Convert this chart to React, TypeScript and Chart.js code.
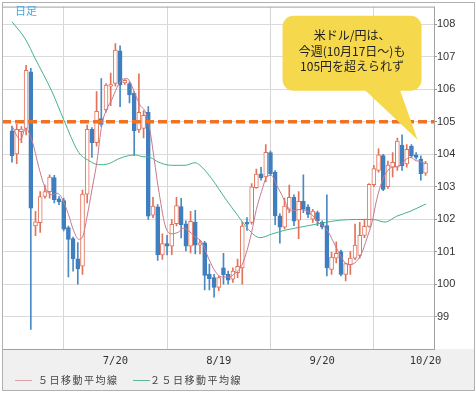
import React, { useEffect, useRef } from "react";
import { Chart, registerables } from "chart.js";

Chart.register(...registerables);

const W = 476;
const H = 394;

// Daily candles, one per weekday from 6/20 (index 0) to 10/20 (index 88)
const opens = [
  104.72, 104.01, 104.7, 104.8, 106.54, 101.79, 101.89, 102.7, 102.85, 103.28,
  102.63, 102.57, 101.74, 101.4, 100.78, 100.55, 102.77, 104.77, 104.36, 105.1,
  105.37, 106.1, 106.18, 107.19, 106.2, 106.18, 105.88, 104.75, 104.8, 105.29,
  102.12, 102.38, 100.9, 101.25, 101.17, 101.86, 102.39, 101.86, 101.17, 101.9,
  101.2, 101.27, 100.3, 100.2, 99.9, 100.5, 100.3, 100.15, 100.35, 100.5,
  101.9, 101.9, 102.97, 103.4, 103.3, 104.05, 103.45, 102.1, 101.75, 102.3,
  102.67, 101.97, 102.55, 102.38, 102.0, 102.2, 101.9, 101.8, 100.45, 100.8,
  101.0, 100.3, 100.6, 100.8, 100.88, 101.5, 101.78, 103.06, 103.5, 103.96,
  103.0, 103.6, 103.6, 104.28, 103.7, 104.25, 103.98, 103.85, 103.42,
];
const highs = [
  104.87, 104.92, 104.85, 106.74, 106.65, 102.24, 102.85, 103.05, 103.37, 103.35,
  102.7, 102.65, 101.79, 101.45, 101.28, 102.9, 104.9, 104.82, 105.93, 106.33,
  106.18, 106.5, 107.41, 107.34, 106.3, 106.23, 105.93, 106.48, 105.35, 105.47,
  102.67, 102.45, 101.55, 101.5, 101.99, 102.67, 102.64, 101.95, 102.24, 102.27,
  101.35, 101.32, 100.62, 100.3, 100.25, 100.95, 100.4, 100.5, 100.77, 101.92,
  102.05, 103.1, 103.54, 103.6, 104.3, 104.1, 103.5, 102.17, 102.65, 103.05,
  102.75, 102.85, 103.37, 102.45, 102.3, 102.25, 101.95, 102.75, 100.98, 101.3,
  101.05, 100.65, 101.0, 101.85, 101.9, 102.0, 103.1, 103.66, 104.17, 104.0,
  103.79, 104.05, 104.5, 104.6, 104.3, 104.3, 104.05, 103.95, 103.78,
];
const lows = [
  103.76, 103.71, 104.36, 104.6, 98.6, 101.49, 101.59, 102.65, 102.65, 102.5,
  102.45, 101.64, 100.22, 100.4, 100.0, 100.3, 102.5, 103.9, 104.25, 104.85,
  105.3, 105.5, 106.1, 105.47, 106.15, 105.58, 103.96, 104.67, 104.5, 101.99,
  102.05, 100.73, 100.76, 100.9, 100.91, 101.79, 101.42, 101.02, 100.96, 100.93,
  100.93, 99.82, 99.82, 99.6, 99.8, 100.0, 100.0, 100.05, 100.2, 100.0,
  101.65, 101.85, 102.95, 103.2, 103.15, 103.35, 101.83, 101.26, 101.7, 102.2,
  101.8, 101.4, 102.2, 102.05, 101.9, 101.8, 101.7, 100.25, 100.3, 100.65,
  100.25, 100.1, 100.3, 100.75, 100.8, 101.43, 101.75, 103.0, 103.45, 102.88,
  102.95, 103.3, 103.5, 103.5, 103.6, 103.9, 103.85, 103.2, 103.35,
];
const closes = [
  103.96, 104.77, 104.78, 106.59, 102.34, 101.92, 102.7, 102.85, 103.3, 102.6,
  102.53, 101.69, 101.38, 100.78, 100.47, 102.77, 104.77, 104.36, 105.32, 104.92,
  106.13, 106.15, 107.21, 106.13, 106.28, 105.83, 104.72, 105.29, 105.2, 102.09,
  102.4, 100.9, 101.25, 101.17, 101.84, 102.42, 101.83, 101.17, 101.93, 101.2,
  101.27, 100.27, 100.17, 99.9, 100.2, 100.29, 100.12, 100.4, 100.55, 101.79,
  101.85, 103.0, 103.39, 103.27, 104.06, 103.4, 102.1, 101.75, 102.4, 102.67,
  101.94, 102.55, 102.3, 102.15, 102.25, 101.95, 101.75, 100.5, 100.83, 100.95,
  100.3, 100.63, 100.8, 101.2, 101.5, 101.78, 103.07, 103.56, 103.98, 102.92,
  103.67, 103.75, 104.41, 103.65, 104.15, 103.95, 103.9, 103.4, 103.73,
];

// Moving averages: [day index, value]
const ma5: [number, number][] = [
  [0, 104.87], [1.8, 104.45], [2.9, 104.8], [4.3, 104.4], [5.7, 103.6], [6.7, 103.1],
  [7.5, 102.85], [8.5, 102.75], [9.6, 102.8], [10.6, 102.65], [12, 102.15], [13.1, 101.65],
  [14.2, 101.38], [14.9, 101.42], [16, 102.1], [17, 102.9], [18.1, 103.8], [19.1, 104.9],
  [20.2, 105.4], [21.3, 105.7], [22.3, 106.05], [23.4, 106.3], [24.5, 106.33], [25.2, 106.2],
  [26.2, 105.85], [27.3, 105.5], [28.4, 105.3], [29.4, 104.7], [30.3, 103.8], [31.1, 103.0],
  [32.6, 101.8], [34, 101.55], [35.4, 101.6], [36.5, 101.72], [37.5, 101.65], [39, 101.45],
  [40.4, 101.3], [41.8, 100.8], [43.2, 100.4], [44.6, 100.22], [46, 100.22], [47.4, 100.32],
  [48.9, 100.58], [50, 101.03], [51, 101.6], [52, 102.3], [53.1, 102.85], [54.2, 103.3],
  [55.2, 103.35], [56.3, 103.05], [57.4, 102.75], [58.4, 102.45], [59.5, 102.25], [61.3, 102.3],
  [63.4, 102.2], [65.5, 101.85], [66.9, 101.7], [68.4, 101.3], [69.8, 100.9], [70.9, 100.65],
  [71.9, 100.6], [73.3, 100.7], [74.4, 100.95], [75.5, 101.4], [76.6, 101.9], [77.6, 102.6],
  [78.7, 103.15], [79.7, 103.45], [80.8, 103.6], [81.8, 103.62], [82.9, 103.7], [83.9, 103.85],
  [84.9, 103.9], [86, 103.8], [87, 103.78], [88, 103.7],
];
const ma25: [number, number][] = [
  [0, 108.08], [2.84, 107.55], [4.96, 106.94], [8.51, 105.93], [10.99, 105.07], [14.18, 104.06],
  [16.31, 103.81], [18.44, 103.68], [20.57, 103.71], [22.7, 103.86], [24.82, 103.96], [26.24, 103.98],
  [27.66, 103.93], [29.43, 103.9], [31.13, 103.76], [33.97, 103.66], [36.81, 103.66], [38.94, 103.74],
  [40.0, 103.66], [42.48, 103.25], [45.32, 102.65], [48.16, 102.09], [50.28, 101.69], [52.77, 101.43],
  [55.25, 101.54], [58.09, 101.66], [62.7, 101.79], [66.24, 101.89], [69.79, 101.97], [73.33, 101.99],
  [76.88, 101.99], [79.36, 101.91], [81.84, 102.09], [84.68, 102.24], [88.09, 102.47],
];

const xTickIdx = [0, 22, 44, 66, 88];
const xTickLabels = ["", "7/20", "8/19", "9/20", "10/20"];
const yTicks = [99, 100, 101, 102, 103, 104, 105, 106, 107, 108];
const resistance = 105;
const calloutAnchor = { x: 86.3, y: 104.45 };
const calloutLines = ["米ドル/円は、", "今週(10月17日～)も", "105円を超えられず"];
const legendItems = [
  { label: "５日移動平均線", color: "#d9a3a8" },
  { label: "２５日移動平均線", color: "#5cb896" },
];
const periodLabel = "日足";

const UP_LINE = "#e2725a";
const DOWN_FILL = "#3f7fbf";

export default function App() {
  const ref = useRef<HTMLCanvasElement | null>(null);

  useEffect(() => {
    const canvas = ref.current;
    if (!canvas) return;
    const isUp = (i: number) => closes[i] >= opens[i];

    const deco = {
      id: "deco",
      beforeDraw(chart: any) {
        const c = chart.ctx;
        const ca = chart.chartArea;
        c.save();
        c.fillStyle = "#ffffff";
        c.fillRect(0, 0, W, H);
        c.fillStyle = "#f0f0f0";
        c.fillRect(2, ca.bottom, 472, 391 - ca.bottom);
        c.restore();
      },
      afterDraw(chart: any) {
        const c = chart.ctx;
        const ca = chart.chartArea;
        const xs = chart.scales.x;
        const ys = chart.scales.y;
        c.save();
        // resistance line
        const yr = ys.getPixelForValue(resistance);
        c.strokeStyle = "#f07222";
        c.lineWidth = 3.5;
        c.setLineDash([9, 4]);
        c.beginPath();
        c.moveTo(ca.left, yr);
        c.lineTo(ca.right, yr);
        c.stroke();
        c.setLineDash([]);

        // plot border
        c.strokeStyle = "#a0a0a0";
        c.lineWidth = 1;
        c.strokeRect(ca.left + 0.5, ca.top + 0.5, ca.right - ca.left, ca.bottom - ca.top);
        // outer border
        c.strokeStyle = "#b0b0b0";
        c.strokeRect(2.5, 2.5, 472, 388);

        // period label
        c.fillStyle = "#45a8de";
        c.font = '11px "Noto Sans CJK JP"';
        c.textBaseline = "middle";
        c.textAlign = "left";
        c.fillText(periodLabel, 15, 11);

        // callout
        const tx = xs.getPixelForValue(calloutAnchor.x);
        const ty = ys.getPixelForValue(calloutAnchor.y);
        const bl = tx - 135, br = tx + 4, bt = ty - 124, bb = ty - 49;
        c.fillStyle = "#f6d84c";
        c.beginPath();
        (c as any).roundRect(bl, bt, br - bl, bb - bt, 11);
        c.fill();
        c.beginPath();
        c.moveTo(tx - 54, bb - 2);
        c.lineTo(tx - 18, bb - 2);
        c.lineTo(tx, ty);
        c.closePath();
        c.fill();
        c.fillStyle = "#222";
        c.font = '12px "Noto Sans CJK JP"';
        c.textAlign = "center";
        const cx = (bl + br) / 2;
        calloutLines.forEach((t, k) => c.fillText(t, cx, bt + 20 + k * 15.5));

        // legend
        c.textAlign = "left";
        c.font = '10px "Noto Sans CJK JP"';
        (c as any).letterSpacing = "1.5px";
        const lx = [15, 133];
        const tx0 = [38, 150];
        legendItems.forEach((it, k) => {
          c.strokeStyle = it.color;
          c.lineWidth = 1;
          c.beginPath();
          c.moveTo(lx[k], 380.5);
          c.lineTo(lx[k] + 17, 380.5);
          c.stroke();
          c.fillStyle = "#444";
          c.fillText(it.label, tx0[k], 380);
        });
        (c as any).letterSpacing = "0px";
        c.restore();
      },
    };

    const chart = new Chart(canvas, {
      type: "bar",
      data: {
        datasets: [
          {
            type: "line",
            data: ma5.map(([x, y]) => ({ x, y })),
            borderColor: "#c9798f",
            borderWidth: 1,
            pointRadius: 0,
            tension: 0.4,
            cubicInterpolationMode: "monotone",
          } as any,
          {
            type: "line",
            data: ma25.map(([x, y]) => ({ x, y })),
            borderColor: "#46b386",
            borderWidth: 1,
            pointRadius: 0,
            tension: 0.4,
            cubicInterpolationMode: "monotone",
          } as any,
          {
            type: "bar",
            data: opens.map((o, i) => ({ x: i, y: [Math.min(o, closes[i]), Math.max(o, closes[i])] })),
            backgroundColor: (ctx: any) => (isUp(ctx.dataIndex) ? "#ffffff" : DOWN_FILL),
            borderColor: (ctx: any) => (isUp(ctx.dataIndex) ? UP_LINE : DOWN_FILL),
            borderWidth: 1,
            borderSkipped: false,
            barThickness: 4,
            minBarLength: 1,
            grouped: false,
          } as any,
          {
            type: "bar",
            data: lows.map((l, i) => ({ x: i, y: [l, highs[i]] })),
            backgroundColor: (ctx: any) => (isUp(ctx.dataIndex) ? UP_LINE : "#4a89c6"),
            borderWidth: 0,
            barThickness: 1,
            grouped: false,
          } as any,
        ],
      },
      options: {
        animation: false,
        responsive: false,
        maintainAspectRatio: false,
        layout: { padding: { left: 2, top: 2, right: 2, bottom: 3 } },
        plugins: { legend: { display: false }, tooltip: { enabled: false } },
        scales: {
          x: {
            type: "linear",
            min: -2.13,
            max: 89.8,
            offset: false,
            grid: { color: "#d6d6d6", drawTicks: false },
            border: { display: false },
            afterBuildTicks: (s: any) => {
              s.ticks = xTickIdx.map((v) => ({ value: v }));
            },
            afterFit: (s: any) => {
              s.height = 42;
            },
            ticks: {
              autoSkip: false,
              maxRotation: 0,
              padding: 6,
              color: "#333",
              font: { family: "DejaVu Sans Mono", size: 10.5 },
              callback: (v: any) => {
                const k = xTickIdx.indexOf(Number(v));
                return k >= 0 ? xTickLabels[k] : "";
              },
            },
          },
          y: {
            type: "linear",
            position: "right",
            min: 98,
            max: 108.55,
            grid: { color: "#dadada", drawTicks: true, tickLength: 3, tickColor: "#999" },
            border: { display: false },
            afterBuildTicks: (s: any) => {
              s.ticks = yTicks.map((v) => ({ value: v }));
            },
            afterFit: (s: any) => {
              s.width = 40;
            },
            ticks: {
              padding: 0,
              color: "#333",
              font: { family: "Liberation Sans", size: 11 },
              callback: (v: any) => String(v),
            },
          },
        },
      } as any,
      plugins: [deco],
    });
    return () => chart.destroy();
  }, []);

  return (
    <div style={{ position: "fixed", left: 0, top: 0, width: W, height: H, background: "#fff" }}>
      <canvas ref={ref} width={W} height={H} style={{ width: W, height: H, display: "block" }} />
    </div>
  );
}
